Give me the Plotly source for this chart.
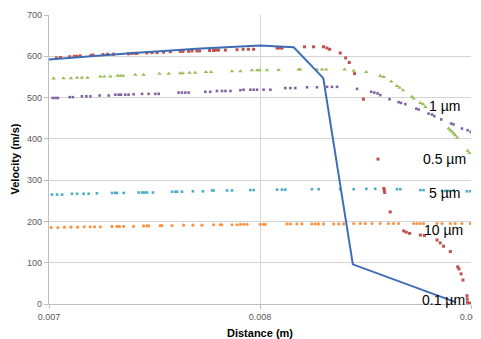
import plotly.graph_objects as go

# ---- data (distance in m, velocity in m/s) ----
gas_x = [0.007, 0.0074, 0.0077, 0.0080, 0.00816, 0.00830, 0.00844, 0.00893]
gas_v = [592, 608, 618, 626, 622, 547, 96, 4]

p01_x = [0.007035, 0.007054, 0.007098, 0.007120, 0.007133, 0.007148, 0.007199, 0.007208,
         0.007256, 0.007278, 0.007306, 0.007377, 0.007393, 0.007409, 0.007417, 0.007464,
         0.007488, 0.007512, 0.007543, 0.007575, 0.007622, 0.007635, 0.007662, 0.007678,
         0.007701, 0.007714, 0.007761, 0.007780, 0.007793, 0.007804, 0.007836, 0.007891,
         0.007920, 0.007945, 0.007970, 0.008081, 0.008092, 0.008104,
         0.008211, 0.008254, 0.008301, 0.008317, 0.008330, 0.008380, 0.008406, 0.008423,
         0.008448, 0.008490, 0.008559, 0.008587, 0.008589, 0.008591, 0.008617, 0.008681,
         0.008693, 0.008709, 0.008760, 0.008779, 0.008839, 0.008854, 0.008870, 0.008902,
         0.008937, 0.008943, 0.008953, 0.008962, 0.008981, 0.008982, 0.008983, 0.008993]
p01_v = [596, 597, 599, 600, 600, 601, 602, 603, 604, 605, 605, 606, 607, 607, 607, 608,
         609, 609, 610, 611, 612, 612, 612, 613, 613, 613, 614, 614, 615, 615, 615, 616,
         617, 617, 617, 620, 620, 620,
         623, 623, 623, 620, 617, 608, 596, 585, 558, 496, 351, 280, 275, 270, 223, 177,
         174, 171, 167, 166, 155, 148, 140, 127, 90, 85, 73, 58, 20, 12, 4, 2]

p05_x = [0.007022, 0.007069, 0.007104, 0.007133, 0.007156, 0.007183, 0.007243, 0.007262,
         0.007291, 0.007325, 0.007338, 0.007351, 0.007409, 0.007448, 0.007524, 0.007567,
         0.007622, 0.007633, 0.007666, 0.007693, 0.007744, 0.007768, 0.007867, 0.007907,
         0.007962, 0.007986, 0.007998, 0.008033, 0.008088, 0.008183, 0.008191, 0.008270,
         0.008294, 0.008314, 0.008401, 0.008444, 0.008504, 0.008570, 0.008586, 0.008622,
         0.008649, 0.008662, 0.008678, 0.008720, 0.008728, 0.008760, 0.008773, 0.008784,
         0.008894, 0.008902, 0.008910, 0.008918, 0.008925, 0.008934, 0.008984, 0.008993]
p05_v = [546, 547, 547, 548, 548, 548, 551, 551, 551, 553, 553, 553, 555, 555, 558, 558,
         559, 559, 560, 560, 562, 562, 564, 564,
         566, 566, 566, 566, 567, 568, 568, 568, 568, 568, 568, 565, 562, 552, 550, 539,
         528, 524, 518, 502, 498, 487, 484, 477,
         425, 421, 417, 413, 409, 403, 371, 366]

p1_x = [0.007018, 0.007031, 0.007042, 0.007098, 0.007113, 0.007156, 0.007177, 0.007196,
        0.007240, 0.007283, 0.007314, 0.007330, 0.007341, 0.007361, 0.007377, 0.007401,
        0.007441, 0.007472, 0.007504, 0.007520, 0.007614, 0.007630, 0.007646, 0.007662,
        0.007741, 0.007764, 0.007796, 0.007820, 0.007836, 0.007860, 0.007907,
        0.007922, 0.007954, 0.007970, 0.007986, 0.008017, 0.008049, 0.008120, 0.008144,
        0.008167, 0.008223, 0.008270, 0.008318, 0.008341, 0.008365, 0.008460, 0.008527,
        0.008542, 0.008557, 0.008570, 0.008614, 0.008657, 0.008668, 0.008689, 0.008741,
        0.008752, 0.008799, 0.008815, 0.008826, 0.008859, 0.008906, 0.008917, 0.008957,
        0.008984, 0.008999]
p1_v = [499, 499, 499, 501, 501, 503, 503, 503, 505, 505, 507, 507, 507, 507, 507, 508,
        509, 509, 509, 509, 512, 512, 512, 512, 514, 514, 516, 516, 516, 516, 518,
        519, 519, 519, 519, 519, 519, 523, 523, 523, 525, 525, 526, 526, 526, 521, 514,
        512, 510, 506, 496, 489, 487, 484, 473, 471, 461, 459, 455, 447, 437, 435, 425,
        421, 417]

p5_x = [0.007014, 0.007038, 0.007062, 0.007109, 0.007133, 0.007164, 0.007188, 0.007227,
        0.007299, 0.007314, 0.007322, 0.007354, 0.007425, 0.007441, 0.007452, 0.007464,
        0.007493, 0.007583, 0.007599, 0.007607, 0.007630, 0.007682, 0.007730, 0.007773,
        0.007780, 0.007844, 0.007867, 0.007954, 0.007970, 0.008081, 0.008104, 0.008120,
        0.008246, 0.008278, 0.008380, 0.008444, 0.008504, 0.008546, 0.008649, 0.008665,
        0.008760, 0.008775, 0.008863, 0.008878, 0.008894, 0.008918, 0.008981, 0.008997]
p5_v = [265, 265, 265, 267, 267, 267, 267, 268, 269, 269, 269, 269, 270, 270, 270, 270,
        270, 272, 272, 272, 272, 273, 273, 275, 275, 275, 275, 276, 276, 277, 277, 277,
        278, 278, 278, 278, 279, 279, 278, 278, 276, 276, 274, 274, 274, 275, 273, 273]

p10_x = [0.007010, 0.007042, 0.007073, 0.007104, 0.007136, 0.007167, 0.007195, 0.007216,
         0.007243, 0.007298, 0.007322, 0.007334, 0.007354, 0.007401, 0.007448, 0.007464,
         0.007472, 0.007527, 0.007535, 0.007583, 0.007638, 0.007682, 0.007725, 0.007780,
         0.007811, 0.007819, 0.007867, 0.007891, 0.007907, 0.007922, 0.007938, 0.008001,
         0.008017, 0.008025, 0.008128, 0.008144, 0.008175, 0.008199, 0.008246, 0.008262,
         0.008278, 0.008301, 0.008349, 0.008373, 0.008396, 0.008444, 0.008475, 0.008499,
         0.008531, 0.008570, 0.008609, 0.008633, 0.008657, 0.008728, 0.008744, 0.008760,
         0.008775, 0.008839, 0.008863, 0.008902, 0.008925, 0.008957, 0.008997]
p10_v = [185, 185, 186, 186, 186, 187, 187, 187, 187, 188, 188, 188, 188, 188, 189, 189,
         189, 190, 190, 190, 191, 191, 191, 192, 192, 192, 192, 192, 193, 193, 193, 193,
         193, 193, 194, 194, 194, 194, 194, 194, 194, 194, 194, 194, 194, 195, 195, 195,
         195, 195, 195, 195, 195, 195, 195, 195, 195, 195, 195, 195, 195, 195, 195]

x_ticks = [0.007, 0.008, 0.009]
x_tick_text = ["0.007", "0.008", "0.009"]
y_ticks = [0, 100, 200, 300, 400, 500, 600, 700]

labels = ["1 µm", "0.5 µm", "5 µm", "10 µm", "0.1 µm"]
label_x = [0.008957, 0.008987, 0.008957, 0.008973, 0.008982]
label_v = [479, 352, 268, 180, 9]

# ---- figure ----
fig = go.Figure()

marker_series = [
    (p05_x, p05_v, "#9BBB59", "triangle-up", 4),
    (p1_x, p1_v, "#8064A2", "square", 2.6),
    (p5_x, p5_v, "#4BACC6", "square", 2.6),
    (p10_x, p10_v, "#F79646", "circle", 3.2),
    (p01_x, p01_v, "#C0504D", "square", 3),
]
for xs, vs, col, sym, sz in marker_series:
    fig.add_trace(go.Scatter(x=xs, y=vs, mode="markers",
                             marker=dict(color=col, symbol=sym, size=sz, line=dict(width=0)),
                             showlegend=False, hoverinfo="skip"))

fig.add_trace(go.Scatter(x=gas_x, y=gas_v, mode="lines",
                         line=dict(color="#3F6DB5", width=2),
                         showlegend=False, hoverinfo="skip"))

for t, lx, lv in zip(labels, label_x, label_v):
    fig.add_annotation(x=lx, y=lv, xref="x", yref="y", text=t, showarrow=False,
                       xanchor="right", yanchor="middle",
                       font=dict(family="Liberation Sans", size=14, color="#000000"))

fig.add_annotation(x=0.5, y=0, xref="paper", yref="paper", text="<b>Distance (m)</b>",
                   showarrow=False, xanchor="center", yanchor="middle", yshift=-29,
                   font=dict(family="Liberation Sans", size=11, color="#000000"))
fig.add_annotation(x=0, y=0.5, xref="paper", yref="paper", text="<b>Velocity (m/s)</b>",
                   showarrow=False, xanchor="center", yanchor="middle", xshift=-35,
                   textangle=-90,
                   font=dict(family="Liberation Sans", size=11, color="#000000"))

grid = "#d4d4d4"
# page body has an 8px default margin, so the figure is sized to fill the rest
fig.update_layout(
    width=473, height=331,
    margin=dict(l=41, r=10, t=7, b=35, autoexpand=False),
    paper_bgcolor="white", plot_bgcolor="white",
    font=dict(family="Liberation Sans", size=9, color="#595959"),
    xaxis=dict(range=[0.007, 0.009], tickvals=x_ticks, ticktext=x_tick_text,
               showgrid=True, gridcolor=grid, gridwidth=1.3,
               showline=True, linecolor="#bfbfbf", linewidth=1.3,
               ticks="outside", ticklen=4, tickcolor="#bfbfbf",
               ticklabeloverflow="allow", automargin=False,
               zeroline=False, fixedrange=True),
    yaxis=dict(range=[0, 700], tickvals=y_ticks,
               showgrid=True, gridcolor=grid, gridwidth=1.3,
               showline=True, linecolor="#bfbfbf", linewidth=1.3,
               ticks="outside", ticklen=4, tickcolor="#bfbfbf",
               automargin=False,
               zeroline=False, fixedrange=True),
)

fig.write_html("out.html")
